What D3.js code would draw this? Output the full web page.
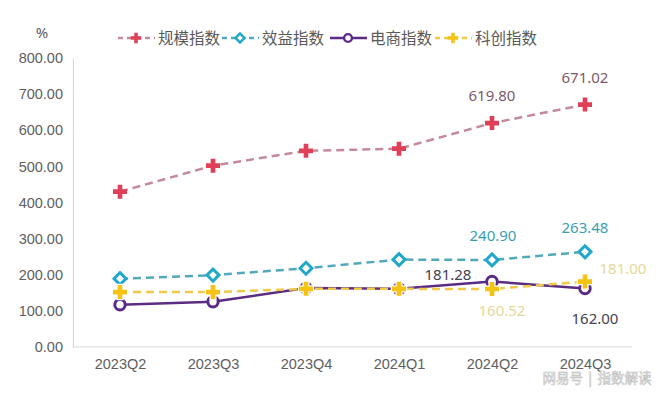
<!DOCTYPE html>
<html><head><meta charset="utf-8">
<script src="https://cdn.jsdelivr.net/npm/d3@7"></script>
<style>
html,body{margin:0;padding:0;background:#fff;}
svg{display:block;font-family:"Noto Sans","Noto Sans CJK SC",sans-serif;}
</style></head>
<body><svg id="c" width="660" height="396"></svg>
<script>
const categories = ["2023Q2","2023Q3","2023Q4","2024Q1","2024Q2","2024Q3"];
const seriesNames = ["规模指数","效益指数","电商指数","科创指数"];
const scaleIdx = [430, 502, 543, 549, 619.80, 671.02];
const benefitIdx = [189, 199, 218, 242, 240.90, 263.48];
const ecomIdx = [117, 125, 163, 161, 181.28, 162.00];
const techIdx = [152, 152, 161, 161, 160.52, 181.00];
const yTicks = [0,100,200,300,400,500,600,700,800];
const unitLabel = "%";
const watermark = "网易号 | 指数解读";

const svg = d3.select("#c");
const x = d3.scalePoint().domain(categories).range([120, 585]);
const y = d3.scaleLinear().domain([0, 800]).range([347, 58]);

// axes
const yAxis = svg.append("g").attr("transform","translate(73,0)")
  .call(d3.axisLeft(y).tickValues(yTicks).tickFormat(d3.format(".2f")).tickSize(0).tickPadding(10));
yAxis.select(".domain").attr("stroke","#d9d9d9").attr("stroke-width",1.2);
yAxis.selectAll("text").attr("fill","#606060").style("font-size","14.5px");

const xAxis = svg.append("g").attr("transform","translate(0,347)")
  .call(d3.axisBottom(x).tickSize(0).tickPadding(12));
xAxis.select(".domain").attr("d","M73,0H632").attr("stroke","#d9d9d9").attr("stroke-width",1.2);
xAxis.selectAll("text").attr("fill","#606060").style("font-size","14.5px");

svg.append("text").attr("x",42).attr("y",38).attr("text-anchor","middle")
  .attr("fill","#606060").style("font-size","15px").text(unitLabel);

const styles = [
  {vals: scaleIdx, line:"#c48a9a", dash:"8,5", mark:"cross", mc:"#df4058", halo:false},
  {vals: benefitIdx, line:"#52a9ba", dash:"8,5", mark:"diamond", mc:"#1fa8c9", halo:false},
  {vals: ecomIdx, line:"#5b2d82", dash:null, mark:"circle", mc:"#5b2a86", halo:false},
  {vals: techIdx, line:"#f0c84a", dash:"8,5", mark:"cross", mc:"#f4c314", halo:true}
];

function drawMarker(g, type, color, cx, cy, scale, halo){
  if(type==="cross"){
    const p = g.append("path").attr("d", d3.symbol(d3.symbolCross, 109*scale*scale)())
      .attr("transform",`translate(${cx},${cy})`).attr("fill",color);
    if(halo) p.attr("stroke","#ffffff").attr("stroke-width",2.5).style("paint-order","stroke");
  } else if(type==="diamond"){
    g.append("path").attr("d", d3.symbol(d3.symbolSquare, 72*scale*scale)())
      .attr("transform",`translate(${cx},${cy}) rotate(45)`).attr("fill","#fff")
      .attr("stroke",color).attr("stroke-width",3*Math.max(scale,0.8));
  } else {
    g.append("circle").attr("cx",cx).attr("cy",cy).attr("r",5.2*scale).attr("fill","#fff")
      .attr("stroke",color).attr("stroke-width",3*Math.max(scale,0.8));
  }
}

const line = d3.line().x((d,i)=>x(categories[i])).y(d=>y(d));
styles.forEach(s=>{
  const g = svg.append("g");
  g.append("path").attr("d", line(s.vals)).attr("fill","none")
    .attr("stroke", s.line).attr("stroke-width",2.5)
    .attr("stroke-dasharray", s.dash);
  s.vals.forEach((v,i)=>drawMarker(g, s.mark, s.mc, x(categories[i]), y(v), 1, s.halo));
});

// data labels (series index, category index, offsets, colour)
const labelSpec = [
  {s:0,i:4,dx:0,dy:-28,c:"#7d5a6a"},
  {s:0,i:5,dx:0,dy:-28,c:"#7d5a6a"},
  {s:1,i:4,dx:1,dy:-25,c:"#3b9fb2"},
  {s:1,i:5,dx:0,dy:-25,c:"#3b9fb2"},
  {s:2,i:4,dx:-44,dy:-8,c:"#44424f"},
  {s:2,i:5,dx:10,dy:30,c:"#44424f"},
  {s:3,i:4,dx:10,dy:21,c:"#e6d79a"},
  {s:3,i:5,dx:38,dy:-14,c:"#e6d79a"}
];
labelSpec.forEach(l=>{
  const v = styles[l.s].vals[l.i];
  svg.append("text").attr("x", x(categories[l.i])+l.dx).attr("y", y(v)+l.dy)
    .attr("text-anchor","middle").attr("dominant-baseline","central")
    .attr("fill", l.c).style("font-size","15px").text(d3.format(".2f")(v));
});

// legend
const legendX = [118, 222, 330, 435];
seriesNames.forEach((n,k)=>{
  const s = styles[k], lx = legendX[k], ly = 38;
  const g = svg.append("g");
  g.append("line").attr("x1",lx).attr("x2",lx+37).attr("y1",ly).attr("y2",ly)
    .attr("stroke", s.line).attr("stroke-width",2.5)
    .attr("stroke-dasharray", s.dash ? "5,4" : null);
  drawMarker(g, s.mark, s.mc, lx+18, ly, 0.75, false);
  g.append("text").attr("x", lx+40).attr("y", ly).attr("dominant-baseline","central")
    .attr("fill","#595959").style("font-size","15.5px").text(n);
});

// watermark
svg.append("text").attr("x",597).attr("y",383).attr("text-anchor","middle")
  .attr("fill","#ffffff").attr("stroke","#b8b8b8").attr("stroke-width",0.6)
  .style("font-size","13.5px").attr("opacity",0.9).text(watermark);
</script></body></html>
